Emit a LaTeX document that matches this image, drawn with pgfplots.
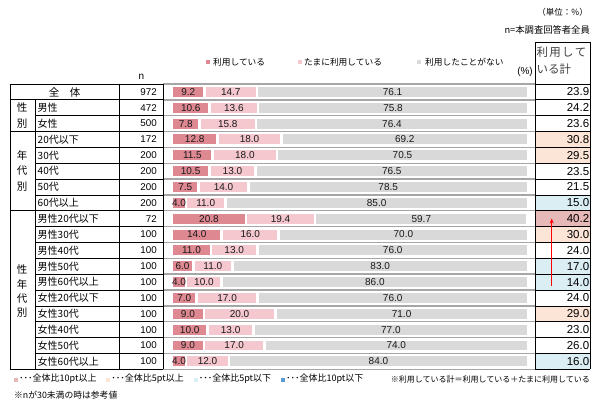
\documentclass[border=0pt]{standalone}
\usepackage{pgfplots}
\pgfplotsset{compat=1.18}
\usepackage{pgfplotstable}
\usetikzlibrary{arrows.meta}
\usepackage{fontspec}
\setmainfont{Liberation Sans}
\newfontfamily\cjk{Noto Sans CJK JP}
\newcommand\jf[1]{\cjk\fontsize{#1}{#1}\selectfont}
\newcommand\lf[1]{\fontsize{#1}{#1}\selectfont}
\definecolor{cA}{RGB}{222,136,146}
\definecolor{cB}{RGB}{245,200,207}
\definecolor{cC}{RGB}{217,217,217}
\definecolor{hPk}{RGB}{230,184,183}
\definecolor{hPe}{RGB}{252,228,214}
\definecolor{hBl}{RGB}{218,238,243}
\definecolor{hBd}{RGB}{91,155,213}
\pgfplotstableread{
row a b c tot n
0 9.2 14.7 76.1 23.9 972
1 10.6 13.6 75.8 24.2 472
2 7.8 15.8 76.4 23.6 500
3 12.8 18.0 69.2 30.8 172
4 11.5 18.0 70.5 29.5 200
5 10.5 13.0 76.5 23.5 200
6 7.5 14.0 78.5 21.5 200
7 4.0 11.0 85.0 15.0 200
8 20.8 19.4 59.7 40.2 72
9 14.0 16.0 70.0 30.0 100
10 11.0 13.0 76.0 24.0 100
11 6.0 11.0 83.0 17.0 100
12 4.0 10.0 86.0 14.0 100
13 7.0 17.0 76.0 24.0 100
14 9.0 20.0 71.0 29.0 100
15 10.0 13.0 77.0 23.0 100
16 9.0 17.0 74.0 26.0 100
17 4.0 12.0 84.0 16.0 100
}\data
\pgfplotsset{base/.style={
  at={(0pt,0pt)}, anchor=south west, scale only axis,
  width=600pt, height=402pt,
  xmin=-48.27, xmax=120.22, ymin=-5.798, ymax=19.565,
  y dir=reverse, hide axis, clip=false},
  lab/.style={draw=none, point meta=explicit,
  nodes near coords={\pgfmathprintnumber[fixed,fixed zerofill,precision=1,assume math mode=true]{\pgfplotspointmeta}},
  every node near coord/.append style={anchor=center, font=\lf{10}, text=black!90, inner sep=0pt}}
}
\begin{document}
\begin{tikzpicture}
\path[use as bounding box] (0,0) rectangle (600pt,402pt);
\begin{axis}[base, xbar stacked, bar width=0.80]
\addplot[fill=cA, draw=white, line width=2.7pt] table[x=a, y=row]{\data};
\addplot[fill=cB, draw=white, line width=2.7pt] table[x=b, y=row]{\data};
\addplot[fill=cC, draw=white, line width=2.7pt] table[x=c, y=row]{\data};
\end{axis}
\begin{axis}[base]
% highlighted cells of the total column
\addplot[fill=hPe, draw=none] coordinates {(101.97,2.5) (117.41,2.5) (117.41,4.5) (101.97,4.5)} -- cycle;
\addplot[fill=hBl, draw=none] coordinates {(101.97,6.5) (117.41,6.5) (117.41,7.5) (101.97,7.5)} -- cycle;
\addplot[fill=hPk, draw=none] coordinates {(101.97,7.5) (117.41,7.5) (117.41,8.5) (101.97,8.5)} -- cycle;
\addplot[fill=hPe, draw=none] coordinates {(101.97,8.5) (117.41,8.5) (117.41,9.5) (101.97,9.5)} -- cycle;
\addplot[fill=hBl, draw=none] coordinates {(101.97,10.5) (117.41,10.5) (117.41,12.5) (101.97,12.5)} -- cycle;
\addplot[fill=hPe, draw=none] coordinates {(101.97,13.5) (117.41,13.5) (117.41,14.5) (101.97,14.5)} -- cycle;
\addplot[fill=hBl, draw=none] coordinates {(101.97,16.5) (117.41,16.5) (117.41,17.5) (101.97,17.5)} -- cycle;
% segment labels
\addplot[lab] table[x expr=\thisrow{a}/2, y=row, meta=a]{\data};
\addplot[lab] table[x expr=\thisrow{a}+\thisrow{b}/2, y=row, meta=b]{\data};
\addplot[lab] table[x expr=\thisrow{a}+\thisrow{b}+\thisrow{c}/2, y=row, meta=c]{\data};
% totals
\addplot[lab, every node near coord/.append style={anchor=east, font=\lf{11.5}, text=black}] table[x expr=117.25, y=row, meta=tot]{\data};
% n
\addplot[draw=none, point meta=explicit,
  nodes near coords={\pgfmathprintnumber[fixed,precision=0,assume math mode=true]{\pgfplotspointmeta}},
  every node near coord/.append style={anchor=east, font=\lf{9.8}, text=black, inner sep=0pt}]
  table[x expr=-4.2, y=row, meta=n]{\data};
\end{axis}
\begin{scope}[x=1pt,y=-1pt,shift={(0pt,402pt)}]
% grid lines
\foreach \k in {0,...,18}{
  \pgfmathsetmacro\yy{84+15.85*\k}
  \draw[gray!70, line width=1.4pt] (163,\yy) -- (535,\yy);
  \draw[black, line width=0.7pt] (535,\yy) -- (590,\yy);
}
\foreach \k in {0,1,3,8,18}{
  \pgfmathsetmacro\yy{84+15.85*\k}
  \draw[black, line width=0.7pt] (10,\yy) -- (163,\yy);
}
\foreach \k in {2,4,5,6,7,9,10,11,12,13,14,15,16,17}{
  \pgfmathsetmacro\yy{84+15.85*\k}
  \draw[black, line width=0.7pt] (35,\yy) -- (163,\yy);
}
\draw[black, line width=0.7pt] (10,84) -- (10,369.3);
\draw[black, line width=0.7pt] (35,99.85) -- (35,369.3);
\draw[black, line width=0.7pt] (119,84) -- (119,369.3);
\draw[black, line width=1.3pt] (163.5,84) -- (163.5,369.3);
\draw[black, line width=0.7pt] (535,42) -- (590,42) -- (590,369.3);
\draw[black, line width=0.7pt] (535,42) -- (535,369.3);
% arrow
\draw[red, line width=0.7pt, -{Stealth[length=5pt,width=4pt]}] (551.7,286) -- (551.7,218.5);
% top texts
\node[anchor=east, font=\jf{8.5}, inner sep=0pt] at (588,12) {（単位：\%）};
\node[anchor=east, font=\jf{9.3}, inner sep=0pt] at (590,30) {n=本調査回答者全員};
\fill[cA] (205.5,60) rectangle (209.5,64);
\node[anchor=west, font=\jf{8.7}, inner sep=0pt] at (213,62) {利用している};
\fill[cB] (297.5,60) rectangle (301.5,64);
\node[anchor=west, font=\jf{8.7}, inner sep=0pt] at (304,62) {たまに利用している};
\fill[cC] (417,60) rectangle (421,64);
\node[anchor=west, font=\jf{8.7}, inner sep=0pt] at (425,62) {利用したことがない};
\node[anchor=east, font=\lf{10}, inner sep=0pt] at (533,72) {(\%)};
\node[font=\lf{10}, inner sep=0pt] at (141.5,77) {n};
\node[anchor=west, font=\jf{11.5}, text=black!75, inner sep=0pt] at (536.5,52) {利\hspace{1.2pt}用\hspace{1.2pt}し\hspace{1.2pt}て};
\node[anchor=west, font=\jf{11.5}, text=black!75, inner sep=0pt] at (536.5,69) {いる計};
% left labels
\node[font=\jf{10.5}, inner sep=0pt] at (64.5,92) {全　体};
\foreach \c/\y in {性/107.5, 別/123.5, 年/155.5, 代/171, 別/187, 性/269.5, 年/284.5, 代/299, 別/312.5}
  \node[font=\jf{10.5}, inner sep=0pt] at (22,\y) {\c};
\foreach \r/\t in {1/男性, 2/女性, 3/20代以下, 4/30代, 5/40代, 6/50代, 7/60代以上, 8/男性20代以下, 9/男性30代, 10/男性40代, 11/男性50代, 12/男性60代以上, 13/女性20代以下, 14/女性30代, 15/女性40代, 16/女性50代, 17/女性60代以上}{
  \pgfmathsetmacro\yy{91.9+15.85*\r}
  \node[anchor=west, font=\jf{10}, inner sep=0pt] at (37.5,\yy) {\t};
}
% bottom notes
\node[anchor=west, font=\jf{9}, inner sep=0pt] at (14,379) {{\color{hPk}\rule{4pt}{4pt}}\hspace{1pt}･･･全体比10pt以上\hspace{10pt}{\color{hPe}\rule{4pt}{4pt}}\hspace{1pt}･･･全体比5pt以上\hspace{10pt}{\color{hBl}\rule{4pt}{4pt}}\hspace{1pt}･･･全体比5pt以下\hspace{10pt}{\color{hBd}\rule{4pt}{4pt}}\hspace{1pt}･･･全体比10pt以下};
\node[anchor=east, font=\jf{8}, inner sep=0pt] at (590,379) {※利用している計＝利用している＋たまに利用している};
\node[anchor=west, font=\jf{8.8}, inner sep=0pt] at (14,395.5) {※nが30未満の時は参考値};
\end{scope}
\end{tikzpicture}
\end{document}
